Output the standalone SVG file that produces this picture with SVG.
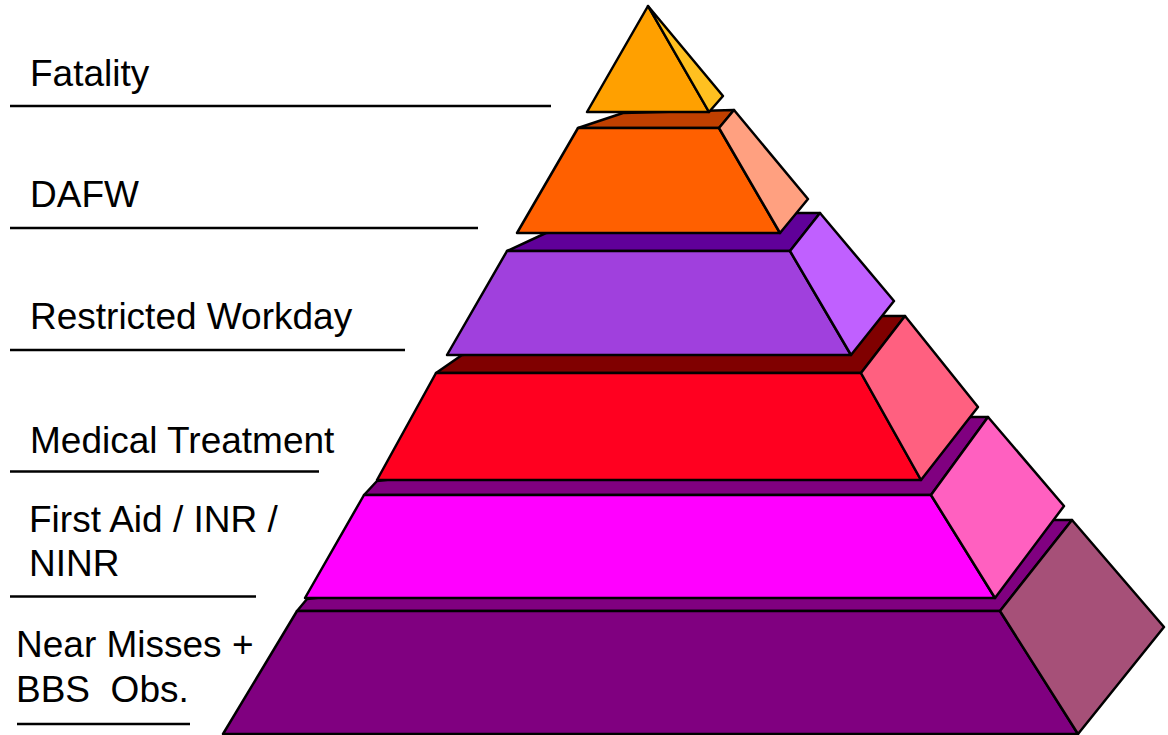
<svg xmlns="http://www.w3.org/2000/svg" width="1168" height="735" viewBox="0 0 1168 735">
<style>
  .f { stroke: #000; stroke-width: 2.5; stroke-linejoin: round; }
  .lbl { font-family: "Liberation Sans", Arial, sans-serif; font-size: 37px; fill: #000; }
  .rule { stroke: #000; stroke-width: 2.5; fill: none; }
</style>
<rect width="1168" height="735" fill="#fff"/>

<g id="layer-near-misses">
  <polygon class="f" fill="#800080" points="297,611 307,599 1000,520 1072,520 1000,611"/>
  <polygon class="f" fill="#800080" points="297,611 1000,611 1078,734 223,734"/>
  <polygon class="f" fill="#A65078" points="1000,611 1072,520 1164,627 1078,734"/>
</g>

<g id="layer-first-aid">
  <polygon class="f" fill="#800080" points="364,495 377,481 930,417 988,417 931,495"/>
  <polygon class="f" fill="#FF00FF" points="364,495 931,495 995,598 305,598"/>
  <polygon class="f" fill="#FF60C0" points="931,495 988,417 1064,506 995,598"/>
</g>

<g id="layer-medical">
  <polygon class="f" fill="#800000" points="436,373 462,355 860,316 905,316 861,373"/>
  <polygon class="f" fill="#FF0020" points="436,373 861,373 921,480 377,480"/>
  <polygon class="f" fill="#FF6080" points="861,373 905,316 978,407 921,480"/>
</g>

<g id="layer-restricted">
  <polygon class="f" fill="#600099" points="507,251 546,233 785,213 820,213 790,251"/>
  <polygon class="f" fill="#A040DD" points="507,251 790,251 851,355 447,355"/>
  <polygon class="f" fill="#C060FF" points="790,251 820,213 894,301 851,355"/>
</g>

<g id="layer-dafw">
  <polygon class="f" fill="#C04000" points="578,128 623,113 734,110 719,128"/>
  <polygon class="f" fill="#FF6000" points="578,128 719,128 780,233 517,233"/>
  <polygon class="f" fill="#FFA080" points="719,128 734,110 808,199 780,233"/>
</g>

<g id="layer-fatality">
  <polygon class="f" fill="#FFA000" points="648,6 587,112 709,112"/>
  <polygon class="f" fill="#FFC020" points="648,6 709,112 723,96"/>
</g>

<g id="connectors">
  <line class="rule" x1="10" y1="106" x2="551" y2="106"/>
  <line class="rule" x1="10" y1="228" x2="478" y2="228"/>
  <line class="rule" x1="10" y1="350" x2="405" y2="350"/>
  <line class="rule" x1="10" y1="471.5" x2="319" y2="471.5"/>
  <line class="rule" x1="10" y1="596.5" x2="256" y2="596.5"/>
  <line class="rule" x1="17" y1="724" x2="190" y2="724"/>
</g>

<g id="label-fatality"><text class="lbl" x="30" y="86">Fatality</text></g>
<g id="label-dafw"><text class="lbl" x="30" y="207">DAFW</text></g>
<g id="label-restricted"><text class="lbl" x="30" y="329">Restricted Workday</text></g>
<g id="label-medical"><text class="lbl" x="30" y="453">Medical Treatment</text></g>
<g id="label-first-aid">
  <text class="lbl" x="29" y="532">First Aid / INR /</text>
  <text class="lbl" x="29" y="576">NINR</text>
</g>
<g id="label-near-misses">
  <text class="lbl" x="16" y="657">Near Misses +</text>
  <text class="lbl" x="16" y="702" xml:space="preserve">BBS  Obs.</text>
</g>
</svg>
